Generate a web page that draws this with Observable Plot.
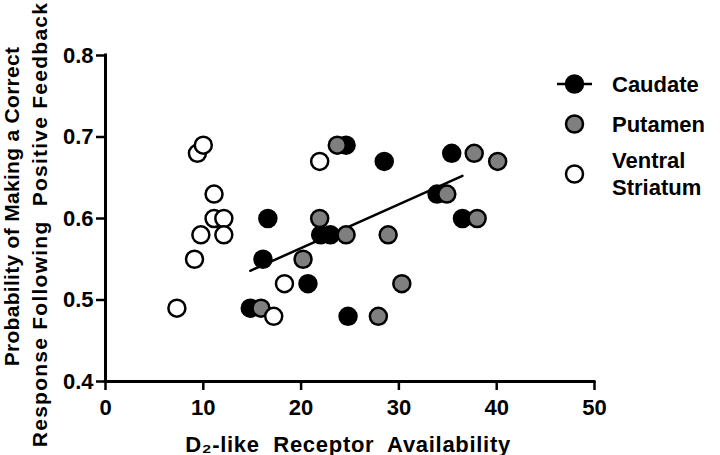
<!DOCTYPE html>
<html>
<head>
<meta charset="utf-8">
<script src="https://cdn.jsdelivr.net/npm/d3@7"></script>
<script src="https://cdn.jsdelivr.net/npm/@observablehq/plot@0.6"></script>
<style>
  html, body { margin: 0; padding: 0; background: #fff; }
  #wrap { position: relative; width: 720px; height: 455px; }
  #legend { position: absolute; left: 0; top: 0; pointer-events: none; }
</style>
</head>
<body>
<div id="wrap"></div>
<script>
// ---- data ----
const caudateX = [14.8, 16.1, 16.6, 20.7, 22.0, 23.0, 24.6, 24.8, 28.5, 33.9, 35.4, 36.5];
const caudateY = [0.49, 0.55, 0.60, 0.52, 0.58, 0.58, 0.69, 0.48, 0.67, 0.63, 0.68, 0.60];
const putamenX = [15.9, 20.2, 21.9, 23.7, 24.6, 27.9, 28.9, 30.3, 34.9, 37.7, 38.0, 40.1];
const putamenY = [0.49, 0.55, 0.60, 0.69, 0.58, 0.48, 0.58, 0.52, 0.63, 0.68, 0.60, 0.67];
const ventralX = [7.3, 9.1, 9.4, 9.75, 10.0, 11.1, 11.1, 12.1, 12.1, 17.2, 18.3, 21.9];
const ventralY = [0.49, 0.55, 0.68, 0.58, 0.69, 0.63, 0.60, 0.60, 0.58, 0.48, 0.52, 0.67];
const xTicks = [0, 10, 20, 30, 40, 50];
const yTicks = [0.4, 0.5, 0.6, 0.7, 0.8];
const seriesNames = ["Caudate", "Putamen", "Ventral", "Striatum"];
const yLabel1 = "Probability of Making a Correct";
const yLabel2 = "Response Following  Positive Feedback";
const xLabel = "D\u2082-like  Receptor  Availability";

const toRows = (xs, ys) => xs.map((x, i) => ({x, y: ys[i]}));
const caudate = toRows(caudateX, caudateY);
const putamen = toRows(putamenX, putamenY);
const ventral = toRows(ventralX, ventralY);

const FONT = "'Liberation Sans', Arial, Helvetica, sans-serif";
const R = 8.5, SW = 2.5, GRAY = "#7f7f7f";

const chart = Plot.plot({
  width: 720,
  height: 455,
  marginLeft: 105,
  marginRight: 126,
  marginTop: 55,
  marginBottom: 74,
  style: {fontFamily: FONT, fontSize: "22px", fontWeight: "bold", color: "black", background: "white", overflow: "visible"},
  x: {domain: [0, 50]},
  y: {domain: [0.4, 0.8]},
  marks: [
    Plot.axisX({ticks: xTicks, tickSize: 9, tickPadding: 9, strokeWidth: 2.5, label: null, fontSize: 22, fontWeight: "bold"}),
    Plot.axisY({ticks: yTicks, tickSize: 9, tickPadding: 3, strokeWidth: 2.5, tickFormat: d3.format(".1f"), label: null, fontSize: 22, fontWeight: "bold"}),
    Plot.ruleX([0], {y1: 0.4, y2: 0.8, strokeWidth: 3, strokeLinecap: "square"}),
    Plot.ruleY([0.4], {x1: 0, x2: 50, strokeWidth: 3, strokeLinecap: "square"}),
    Plot.linearRegressionY(caudate, {x: "x", y: "y", ci: 0, stroke: "black", strokeWidth: 2.5}),
    Plot.dot(caudate, {x: "x", y: "y", r: R, fill: "black", stroke: "black", strokeWidth: SW}),
    Plot.dot(putamen, {x: "x", y: "y", r: R, fill: GRAY, stroke: "black", strokeWidth: SW}),
    Plot.dot(ventral, {x: "x", y: "y", r: R, fill: "white", stroke: "black", strokeWidth: SW}),
    Plot.text([yLabel1], {text: d => d, frameAnchor: "left", rotate: -90, dx: -87, dy: -12, lineAnchor: "bottom", textAnchor: "middle", fontSize: 21, fontWeight: "bold"}),
    Plot.text([yLabel2], {text: d => d, frameAnchor: "left", rotate: -90, dx: -59, dy: 6, lineAnchor: "bottom", textAnchor: "middle", fontSize: 21, fontWeight: "bold"}),
    Plot.text([xLabel], {text: d => d, frameAnchor: "bottom", dx: -2, dy: 70, lineAnchor: "bottom", textAnchor: "middle", fontSize: 22, fontWeight: "bold"})
  ]
});
// letter spacing on label texts
d3.select(chart).selectAll("text").filter(function() { return this.textContent === yLabel1; }).style("letter-spacing", "0.3px");
d3.select(chart).selectAll("text").filter(function() { return this.textContent === yLabel2; }).style("letter-spacing", "1.25px");
d3.select(chart).selectAll("text").filter(function() { return this.textContent === xLabel; }).style("letter-spacing", "0.7px");

const wrap = document.getElementById("wrap");
wrap.appendChild(chart);

// ---- legend (overlay) ----
const lg = d3.select(wrap).append("svg").attr("id", "legend").attr("width", 720).attr("height", 455)
  .style("font-family", FONT).style("font-weight", "bold").style("font-size", "22px");
lg.append("line").attr("x1", 557).attr("x2", 592).attr("y1", 84).attr("y2", 84).attr("stroke", "black").attr("stroke-width", 2.5);
lg.append("circle").attr("cx", 574.5).attr("cy", 84).attr("r", R).attr("fill", "black").attr("stroke", "black").attr("stroke-width", SW);
lg.append("circle").attr("cx", 574.5).attr("cy", 124).attr("r", R).attr("fill", GRAY).attr("stroke", "black").attr("stroke-width", SW);
lg.append("circle").attr("cx", 574.5).attr("cy", 174).attr("r", R).attr("fill", "white").attr("stroke", "black").attr("stroke-width", SW);
lg.append("text").attr("x", 612).attr("y", 92).text(seriesNames[0]);
lg.append("text").attr("x", 612).attr("y", 132).text(seriesNames[1]);
lg.append("text").attr("x", 612).attr("y", 168).text(seriesNames[2]);
lg.append("text").attr("x", 612).attr("y", 195).text(seriesNames[3]);
</script>
</body>
</html>
